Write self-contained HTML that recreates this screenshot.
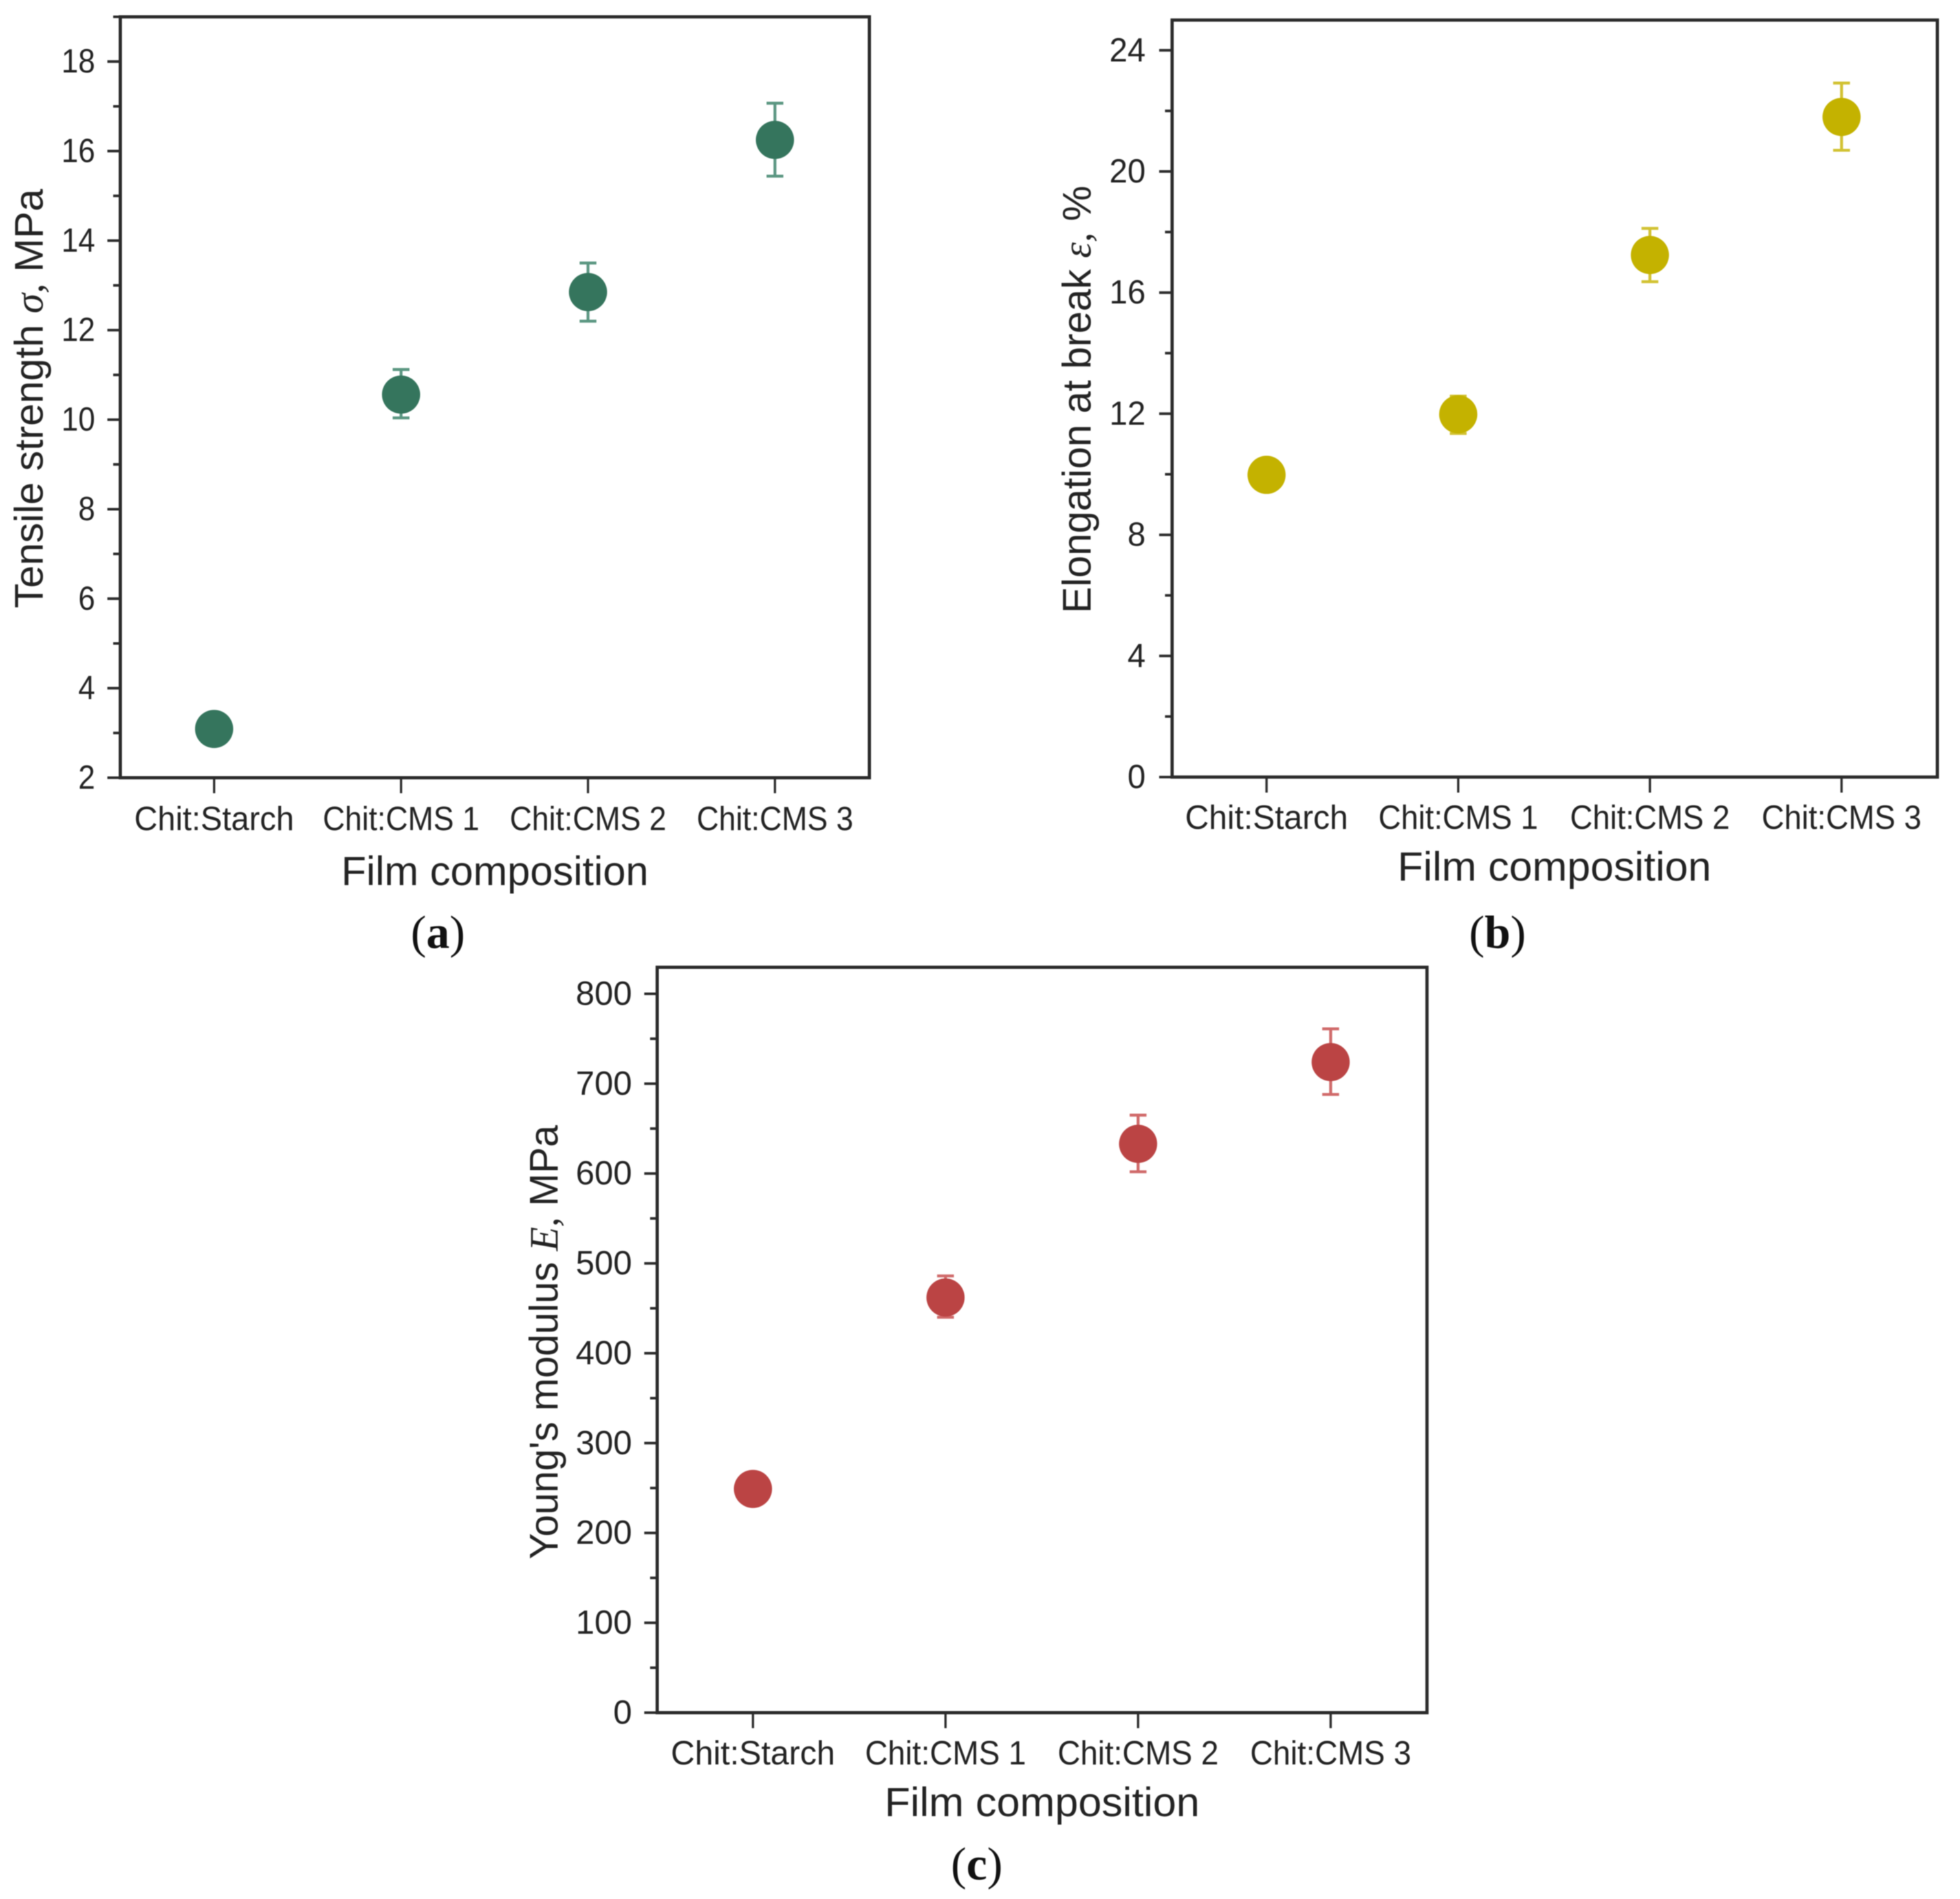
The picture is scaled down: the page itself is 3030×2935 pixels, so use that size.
<!DOCTYPE html>
<html lang="en">
<head>
<meta charset="utf-8">
<title>Film mechanical properties</title>
<style>
html,body{margin:0;padding:0;background:#fff;}
svg{display:block;filter:blur(0.9px);}
text{font-family:"Liberation Sans","DejaVu Sans",sans-serif;fill:#232323;}
</style>
</head>
<body>
<svg id="figure" xmlns="http://www.w3.org/2000/svg" width="3030" height="2935" viewBox="0 0 3030 2935"></svg>
<script>
const categories = ["Chit:Starch", "Chit:CMS 1", "Chit:CMS 2", "Chit:CMS 3"];

const tensileValues = [3.09, 10.56, 12.85, 16.25];
const tensileUpper = [3.09, 11.12, 13.5, 17.07];
const tensileLower = [3.09, 10.04, 12.2, 15.44];
const tensileTicks = [2, 4, 6, 8, 10, 12, 14, 16, 18];
const tensileMinorTicks = [3, 5, 7, 9, 11, 13, 15, 17, 19];

const elongationValues = [9.98, 11.98, 17.24, 21.8];
const elongationUpper = [9.98, 12.58, 18.12, 22.92];
const elongationLower = [9.98, 11.35, 16.36, 20.7];
const elongationTicks = [0, 4, 8, 12, 16, 20, 24];
const elongationMinorTicks = [2, 6, 10, 14, 18, 22];

const modulusValues = [249, 462, 633, 724];
const modulusUpper = [249, 486, 665, 761];
const modulusLower = [249, 440, 602, 688];
const modulusTicks = [0, 100, 200, 300, 400, 500, 600, 700, 800];
const modulusMinorTicks = [50, 150, 250, 350, 450, 550, 650, 750];

const svg = document.getElementById('figure');
const NS = 'http://www.w3.org/2000/svg';

function make(tag, attrs, parent, content) {
  const el = document.createElementNS(NS, tag);
  for (const k in attrs) el.setAttribute(k, attrs[k]);
  if (content !== undefined) el.textContent = content;
  parent.appendChild(el);
  return el;
}

function drawPanel(p) {
  const g = make('g', {}, svg);
  
  

  const yScale = v => p.bottom - (v - p.yMin) / (p.yMax - p.yMin) * (p.bottom - p.top);
  const xScale = i => p.x0 + i * p.dx;

  const frame = make('rect', {x: p.left, y: p.top, width: p.right - p.left, height: p.bottom - p.top, fill: 'none', stroke: '#2b2b2b', 'stroke-width': 5}, g);
  
  

  p.ticks.forEach(v => {
    const tick = make('line', {x1: p.left - 20, x2: p.left, y1: yScale(v), y2: yScale(v), stroke: '#2b2b2b', 'stroke-width': 4}, g);
    
    
    const s = String(v);
    const label = make('text', {x: p.yLabelRight, y: yScale(v) + 17, 'text-anchor': 'end', 'font-size': 52, textLength: s.length * p.digitWidth, lengthAdjust: 'spacingAndGlyphs'}, g, s);
    
    
  });

  p.minorTicks.forEach(v => {
    const tick = make('line', {x1: p.left - 11, x2: p.left, y1: yScale(v), y2: yScale(v), stroke: '#2b2b2b', 'stroke-width': 4}, g);
    
    
  });

  categories.forEach((c, i) => {
    const tick = make('line', {x1: xScale(i), x2: xScale(i), y1: p.bottom, y2: p.bottom + 24, stroke: '#2b2b2b', 'stroke-width': 3.5}, g);
    
    
    const label = make('text', {x: xScale(i), y: p.catBaseline, 'text-anchor': 'middle', 'font-size': 52, fill: '#303030', textLength: i === 0 ? p.catWidth : p.catWidth * 0.98, lengthAdjust: 'spacingAndGlyphs'}, g, c);
    
    
  });

  p.values.forEach((v, i) => {
    if (p.upper[i] !== p.lower[i]) {
      const err = make('path', {
        d: 'M' + xScale(i) + ' ' + yScale(p.upper[i]) + 'V' + yScale(p.lower[i]) +
           'M' + (xScale(i) - 13) + ' ' + yScale(p.upper[i]) + 'h26' +
           'M' + (xScale(i) - 13) + ' ' + yScale(p.lower[i]) + 'h26',
        fill: 'none', stroke: p.errColor, 'stroke-width': 4.5}, g);
      
      
    }
    const pt = make('circle', {cx: xScale(i), cy: yScale(v), r: 29.5, fill: p.color}, g);
    
    
  });

  const xt = make('text', {x: p.xTitleX, y: p.xTitleY, 'text-anchor': 'middle', 'font-size': 63, textLength: p.xTitleWidth, lengthAdjust: 'spacingAndGlyphs'}, g, 'Film composition');
  
  

  const cy = (p.yTitleTop + p.yTitleBottom) / 2;
  const yt = make('text', {transform: 'translate(' + p.yTitleX + ' ' + cy + ') rotate(-90)', 'text-anchor': 'middle', 'font-size': 62, textLength: p.yTitleBottom - p.yTitleTop, lengthAdjust: 'spacingAndGlyphs'}, g);
  
  
  make('tspan', {}, yt, p.yTitle[0]);
  make('tspan', {'font-style': 'italic', 'font-family': '"Liberation Serif", serif'}, yt, p.yTitle[1]);
  make('tspan', {}, yt, p.yTitle[2]);

  const cap = make('text', {x: p.capX, y: p.capY, 'text-anchor': 'middle', 'font-size': 72, style: 'font-family:"Liberation Serif",serif;fill:#111'}, g);
  
  
  make('tspan', {}, cap, '(');
  make('tspan', {'font-weight': 'bold'}, cap, p.capLetter);
  make('tspan', {}, cap, ')');
}

drawPanel({
  id: 'tensile', left: 186, right: 1344, top: 26, bottom: 1202, yMin: 2, yMax: 19,
  x0: 331, dx: 289, ticks: tensileTicks, minorTicks: tensileMinorTicks,
  values: tensileValues, upper: tensileUpper, lower: tensileLower,
  color: '#35755d', errColor: '#5a9681', yLabelRight: 147, digitWidth: 26,
  catBaseline: 1283, catWidth: 247, xTitleX: 765, xTitleY: 1368, xTitleWidth: 475,
  yTitle: ['Tensile strength ', 'σ,', ' MPa'], yTitleX: 66, yTitleTop: 292, yTitleBottom: 940,
  capX: 677, capY: 1465, capLetter: 'a'
});

drawPanel({
  id: 'elongation', left: 1812, right: 2995, top: 31, bottom: 1201, yMin: 0, yMax: 25,
  x0: 1958, dx: 296.3, ticks: elongationTicks, minorTicks: elongationMinorTicks,
  values: elongationValues, upper: elongationUpper, lower: elongationLower,
  color: '#c4b200', errColor: '#d2c233', yLabelRight: 1771, digitWidth: 28,
  catBaseline: 1281, catWidth: 252, xTitleX: 2403, xTitleY: 1361, xTitleWidth: 485,
  yTitle: ['Elongation at break ', 'ε,', ' %'], yTitleX: 1686, yTitleTop: 287, yTitleBottom: 948,
  capX: 2315, capY: 1465, capLetter: 'b'
});

drawPanel({
  id: 'modulus', left: 1016, right: 2206, top: 1495, bottom: 2647, yMin: 0, yMax: 829.5,
  x0: 1164, dx: 297.7, ticks: modulusTicks, minorTicks: modulusMinorTicks,
  values: modulusValues, upper: modulusUpper, lower: modulusLower,
  color: '#bb4444', errColor: '#d06a6a', yLabelRight: 977, digitWidth: 29,
  catBaseline: 2727, catWidth: 254, xTitleX: 1611, xTitleY: 2807, xTitleWidth: 487,
  yTitle: ["Young's modulus ", 'E,', ' MPa'], yTitleX: 862, yTitleTop: 1739, yTitleBottom: 2410,
  capX: 1510, capY: 2905, capLetter: 'c'
});
</script>
</body>
</html>
